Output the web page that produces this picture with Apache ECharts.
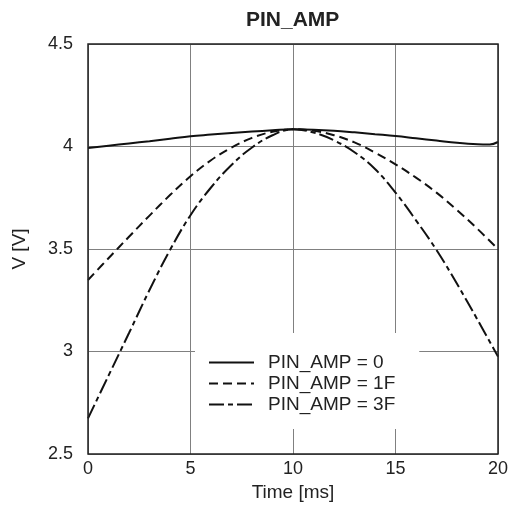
<!DOCTYPE html>
<html>
<head>
<meta charset="utf-8">
<script src="https://cdn.jsdelivr.net/npm/echarts@6/dist/echarts.min.js"></script>
<style>
html,body{margin:0;padding:0;background:#fff;}
#chart{width:512px;height:508px;}
</style>
</head>
<body>
<div id="chart"></div>
<script>
var chartTitle = 'PIN_AMP';
var xName = 'Time [ms]';
var yName = 'V [V]';
var seriesNames = ['PIN_AMP = 0', 'PIN_AMP = 1F', 'PIN_AMP = 3F'];

var timesSolid = [0,1,2,3,4,5,6,7,8,9,10,11,12,13,14,15,16,17,18,19,19.6,20];
var valuesAmp0 = [3.993,4.004,4.015,4.026,4.038,4.050,4.058,4.066,4.073,4.079,4.084,4.082,4.077,4.069,4.060,4.051,4.040,4.029,4.018,4.011,4.010,4.022];

var times = [0,1,2,3,4,5,6,7,8,9,10,11,12,13,14,15,16,17,18,19,20];
var valuesAmp1F = [3.349,3.455,3.560,3.663,3.763,3.855,3.933,3.995,4.042,4.072,4.084,4.077,4.055,4.020,3.970,3.913,3.848,3.775,3.690,3.598,3.499];
var valuesAmp3F = [2.674,2.882,3.090,3.300,3.495,3.665,3.800,3.910,3.995,4.055,4.084,4.068,4.030,3.972,3.890,3.775,3.640,3.495,3.330,3.155,2.975];

function pairs(xs, ys){ return xs.map(function(x,i){ return [x, ys[i]]; }); }

var chart = echarts.init(document.getElementById('chart'), null, {renderer:'canvas'});
var font = 'Liberation Sans, Arial, Helvetica, sans-serif';
var lineCommon = {type:'line', showSymbol:false, symbol:'none', smooth:0.4, z:3};

chart.setOption({
  animation:false,
  backgroundColor:'#fff',
  title:{
    text:chartTitle, left:246, top:10, padding:0,
    textStyle:{fontFamily:font, fontSize:21, fontWeight:'bold', color:'#222'}
  },
  grid:{left:88, right:14, top:44, bottom:54, show:true, borderColor:'#222', borderWidth:1.5, backgroundColor:'transparent', z:4},
  legend:{
    orient:'vertical', left:195, top:333,
    padding:[20,24,15,13],
    backgroundColor:'#fff',
    itemWidth:45, itemHeight:14, itemGap:2,
    itemStyle:{opacity:0, color:'rgba(0,0,0,0)', borderWidth:0},
    textStyle:{fontFamily:font, fontSize:19, color:'#222', lineHeight:19, padding:[0,0,0,9]},
    data:seriesNames,
    z:2
  },
  xAxis:{
    type:'value', min:0, max:20, interval:5,
    name:xName, nameLocation:'middle', nameGap:29,
    nameTextStyle:{fontFamily:font, fontSize:19, color:'#222'},
    axisLine:{show:false}, axisTick:{show:false},
    axisLabel:{fontFamily:font, fontSize:18, color:'#222', margin:6},
    splitLine:{show:true, lineStyle:{color:'#808080', width:1}}
  },
  yAxis:{
    type:'value', min:2.5, max:4.5, interval:0.5,
    name:yName, nameLocation:'middle', nameGap:59,
    nameTextStyle:{fontFamily:font, fontSize:19, color:'#222'},
    axisLine:{show:false}, axisTick:{show:false},
    axisLabel:{fontFamily:font, fontSize:18, color:'#222', margin:15},
    splitLine:{show:true, lineStyle:{color:'#808080', width:1}}
  },
  series:[
    Object.assign({}, lineCommon, {name:seriesNames[0], data:pairs(timesSolid, valuesAmp0),
      lineStyle:{color:'#111', width:2, type:'solid'}, itemStyle:{color:'#111'}}),
    Object.assign({}, lineCommon, {name:seriesNames[1], data:pairs(times, valuesAmp1F),
      lineStyle:{color:'#111', width:2, type:[9,5]}, itemStyle:{color:'#111'}}),
    Object.assign({}, lineCommon, {name:seriesNames[2], data:pairs(times, valuesAmp3F),
      lineStyle:{color:'#111', width:2, type:[15,4,5,4]}, itemStyle:{color:'#111'}})
  ]
});
</script>
</body>
</html>
